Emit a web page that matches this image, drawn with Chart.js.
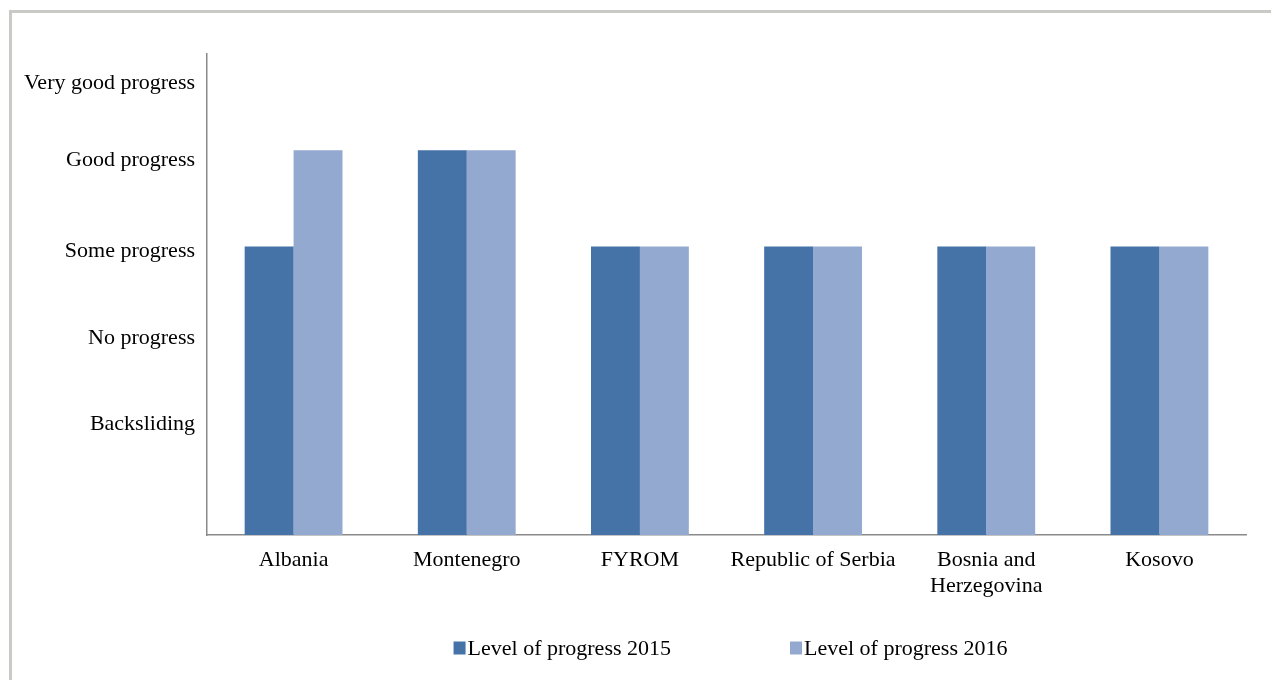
<!DOCTYPE html>
<html>
<head>
<meta charset="utf-8">
<script src="https://cdn.jsdelivr.net/npm/chart.js@4/dist/chart.umd.min.js"></script>
<style>
  html, body { margin: 0; padding: 0; background: #fff; }
  canvas { display: block; }
</style>
</head>
<body>
<canvas id="barChart" width="1271" height="680"></canvas>
<script>
const countries = ['Albania', 'Montenegro', 'FYROM', 'Republic of Serbia', ['Bosnia and', 'Herzegovina'], 'Kosovo'];
const progress2015 = [3, 4, 3, 3, 3, 3];
const progress2016 = [4, 4, 3, 3, 3, 3];
const levelLabels = ['Backsliding', 'No progress', 'Some progress', 'Good progress', 'Very good progress'];
const levelTicks = [1.15, 2.05, 2.95, 3.9, 4.7];

const font = { family: '"Liberation Serif", "Times New Roman", serif', size: 22, lineHeight: 1.2 };

// grey frame round the figure + legend drawn under the plot
const framePlugin = {
    id: 'frame',
    beforeDraw(chart) {
        const ctx = chart.ctx;
        ctx.save();
        ctx.strokeStyle = '#c9c9c5';
        ctx.lineWidth = 3;
        ctx.strokeRect(10.5, 11.5, 1400, 800);
        ctx.restore();
    },
    afterDraw(chart) {
        const ctx = chart.ctx;
        ctx.save();
        ctx.font = font.size + 'px ' + font.family;
        ctx.textBaseline = 'middle';
        const items = chart.data.datasets.map(ds => ({
            text: ds.label, color: ds.backgroundColor, w: 15 + ctx.measureText(ds.label).width
        }));
        const gap = 118;
        const total = items.reduce((s, it) => s + it.w, 0) + gap * (items.length - 1);
        let x = 731 - total / 2;
        const y = 648;
        items.forEach(it => {
            ctx.fillStyle = it.color;
            ctx.fillRect(x, y - 6.5, 12, 13);
            ctx.fillStyle = '#000';
            ctx.fillText(it.text, x + 14, y + 1);
            x += it.w + gap;
        });
        ctx.restore();
    }
};

const data = {
    labels: countries,
    datasets: [{
        label: 'Level of progress 2015',
        data: progress2015,
        backgroundColor: '#4572a7',
        borderWidth: 0
    }, {
        label: 'Level of progress 2016',
        data: progress2016,
        backgroundColor: '#94a9d0',
        borderWidth: 0
    }]
};

const config = {
    type: 'bar',
    data,
    options: {
        responsive: false,
        animation: false,
        layout: { padding: { top: 54, right: 25, left: 0, bottom: 0 } },
        categoryPercentage: 0.565,
        barPercentage: 1,
        plugins: {
            legend: { display: false },
            tooltip: { enabled: false }
        },
        scales: {
            x: {
                grid: { display: false, drawTicks: false },
                border: { display: true, color: '#8a8a8a', width: 1.5 },
                ticks: { color: '#000', font, padding: 12, maxRotation: 0, autoSkip: false },
                afterFit(scale) { scale.height = 145; }
            },
            y: {
                min: 0,
                max: 5,
                grid: { display: false, drawTicks: false },
                border: { display: true, color: '#8a8a8a', width: 1.5 },
                afterBuildTicks(scale) { scale.ticks = levelTicks.map(v => ({ value: v })); },
                ticks: {
                    color: '#000',
                    font,
                    padding: 12,
                    callback: (value, index) => levelLabels[index]
                },
                afterFit(scale) { scale.width = 207; }
            }
        }
    },
    plugins: [framePlugin]
};

const barChart = new Chart(document.getElementById('barChart').getContext('2d'), config);
</script>
</body>
</html>
